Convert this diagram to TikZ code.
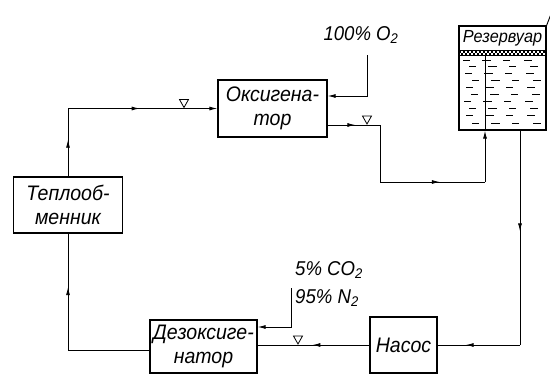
\documentclass[tikz,border=0pt]{standalone}
\usepackage{fontspec}
\setmainfont{Liberation Sans}[FakeStretch=0.93]
\usetikzlibrary{arrows.meta,decorations.markings}
\begin{document}
\begin{tikzpicture}[x=1pt,y=-1pt,
  box/.style={draw, line width=1.3pt, inner sep=0pt, align=center,
    font=\fontsize{21}{24}\selectfont\itshape},
  flow/.style={line width=0.9pt},
  tip/.style={-{Latex[length=8pt,width=4pt]}},
  midarr/.style={postaction={decorate}, decoration={markings,
    mark=at position #1 with {\arrow{Latex[length=8pt,width=4pt]}}}},
  lbl/.style={font=\fontsize{20}{23}\selectfont\itshape, inner sep=0pt},
  valve/.pic={\draw[line width=0.8pt] (-4.5,-9) -- (4.5,-9) -- (0,-1) -- cycle;}]
\useasboundingbox (0,0) rectangle (550,375);

% blocks
\node[box, minimum width=109pt, minimum height=57pt] (oks) at (272.5,108.5) {Оксигена-\\тор};
\node[box, minimum width=109pt, minimum height=56pt] (tep) at (68,205) {Теплооб-\\менник};
\node[box, minimum width=107pt, minimum height=53pt] (dez) at (203.5,346.5) {Дезоксиге-\\натор};
\node[box, minimum width=67pt, minimum height=56pt] (nas) at (403.5,345) {Насос};

% reservoir
\node[draw, line width=1.3pt, minimum width=87pt, minimum height=104pt, inner sep=0pt] (res) at (502.5,78) {};
\node[font=\fontsize{17.5}{19}\selectfont\itshape, inner sep=0pt] (resl) at (502.5,38) {Резервуар};
\draw[line width=0.8pt] (459,50) -- (546,50) (459,55) -- (546,55);
\foreach \x in {459,463,...,543} {
  \fill (\x,50) rectangle (\x+2,52.5);
  \fill (\x+2,52.5) rectangle (\x+4,55);
}
\foreach \y/\o in {60/0,66/6,73/2,80/9,87/3,94/8,101/1,108/6,115/3,123/9} {
  \foreach \x/\l in {463/7,482/9,503/7,524/8} {
    \draw[line width=0.8pt] (\x+\o,\y) -- (\x+\o+\l,\y);
  }
}
\draw[flow] (485,55) -- (485,130);
\draw[line width=0.9pt] (res.north east) -- ++(5,-13);

% labels
\node[lbl] (o2) at (361,35) {100\% O\textsubscript{2}};
\node[lbl, anchor=west] (co2) at (295,270) {5\% CO\textsubscript{2}};
\node[lbl, anchor=west] (n2) at (295,298) {95\% N\textsubscript{2}};

% heat exchanger -> oxygenator
\coordinate (c1) at (tep.north |- oks.west);
\draw[flow, midarr=0.54] (tep.north) -- (c1);
\draw[flow, midarr=0.48, tip] (c1) -- (oks.west);
\pic at (184,108.5) {valve};

% O2 supply
\coordinate (o2a) at (367,55);
\coordinate (o2b) at (367,96);
\draw[flow, tip] (o2a) -- (o2b) -- (o2b -| oks.east);

% oxygenator -> reservoir
\coordinate (k1) at (380,125);
\coordinate (k0) at (oks.east |- k1);
\coordinate (k2) at (380,182);
\coordinate (k3) at (485,182);
\draw[flow, midarr=0.53] (k0) -- (k1);
\draw[flow] (k1) -- (k2);
\draw[flow, midarr=0.57] (k2) -- (k3);
\draw[flow, tip] (k3) -- (k3 |- res.south);
\pic at (367,125) {valve};

% reservoir -> pump
\coordinate (r2) at (520,345);
\coordinate (r1) at (r2 |- res.south);
\draw[flow, midarr=0.47] (r1) -- (r2);
\draw[flow, midarr=0.66] (r2) -- (r2 -| nas.east);

% pump -> deoxygenator
\draw[flow, midarr=0.51] (nas.west) -- (nas.west -| dez.east);
\pic at (298,345) {valve};

% gas mixture supply
\coordinate (g1) at (291,288);
\coordinate (g2) at (291,327);
\draw[flow, tip] (g1) -- (g2) -- (g2 -| dez.east);

% deoxygenator -> heat exchanger
\coordinate (d1) at (68,350);
\draw[flow] (d1 -| dez.west) -- (d1);
\draw[flow, midarr=0.54] (d1) -- (tep.south);
\end{tikzpicture}
\end{document}
